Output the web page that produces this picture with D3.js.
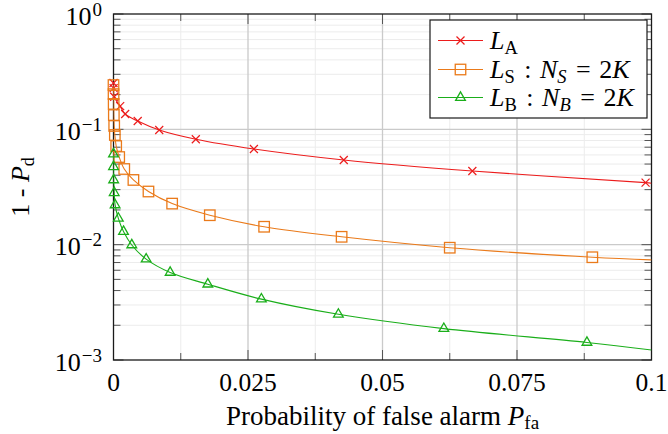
<!DOCTYPE html>
<html>
<head>
<meta charset="utf-8">
<script src="https://cdn.jsdelivr.net/npm/d3@7"></script>
<style>
  body { margin: 0; background: #fff; }
</style>
</head>
<body>
<div id="chart"></div>
<script>
// ---- data ----
// last point of each series is the line end at Pfa = 0.1 (no marker there)
const pfaA  = [0, 0.00002, 0.00013, 0.00124, 0.00217, 0.0045, 0.0085, 0.0153, 0.0261, 0.0428, 0.0667, 0.0989, 0.1];
const missA = [0.252, 0.228, 0.1916, 0.159, 0.1358, 0.118, 0.0986, 0.082, 0.0675, 0.0542, 0.0435, 0.0345, 0.0341];

const pfaS  = [0, 0.00001, 0.00003, 0.00006, 0.00013, 0.00025, 0.0005, 0.00106, 0.002, 0.0037, 0.0065, 0.0109, 0.0179, 0.028, 0.0424, 0.0625, 0.089, 0.1];
const missS = [0.242, 0.202, 0.166, 0.133, 0.107, 0.0893, 0.0716, 0.0575, 0.0453, 0.0364, 0.0289, 0.0227, 0.018, 0.0143, 0.0117, 0.00941, 0.00778, 0.00738];

const pfaB  = [0, 0.00001, 0.00003, 0.00013, 0.0003, 0.0009, 0.00186, 0.0034, 0.00607, 0.01053, 0.01753, 0.02749, 0.0418, 0.0614, 0.088, 0.1];
const missB = [0.0611, 0.0474, 0.0364, 0.0282, 0.0221, 0.0169, 0.013, 0.00994, 0.00749, 0.00574, 0.00454, 0.00337, 0.00249, 0.00187, 0.00142, 0.00122];

const xTicks = [0, 0.025, 0.05, 0.075, 0.1];
const xTickLabels = ["0", "0.025", "0.05", "0.075", "0.1"];
const xMinor = [0.0125, 0.0375, 0.0625, 0.0875];
const yTicks = [1e-3, 1e-2, 1e-1, 1];
const yTickExps = ["\u22123", "\u22122", "\u22121", "0"];

const series = [
  { key: "A", pfa: pfaA, miss: missA, color: "#ec1c1c", mark: "cross" },
  { key: "S", pfa: pfaS, miss: missS, color: "#ea7a1a", mark: "square" },
  { key: "B", pfa: pfaB, miss: missB, color: "#1aae1a", mark: "triangle" }
];

// ---- layout ----
const W = 668, H = 434;
const margin = { top: 14, right: 16.5, bottom: 74, left: 113.5 };
const FONT = "'Liberation Serif', 'DejaVu Serif', serif";

const svg = d3.select("#chart").append("svg")
  .attr("width", W).attr("height", H)
  .attr("font-family", FONT);

const x = d3.scaleLinear().domain([0, 0.1]).range([margin.left, W - margin.right]);
const y = d3.scaleLog().domain([1e-3, 1]).range([H - margin.bottom, margin.top]);

const x0 = x.range()[0], x1 = x.range()[1];
const y0 = y.range()[0], y1 = y.range()[1];

// ---- grid ----
const yMinor = y.ticks().filter(v => !yTicks.some(t => Math.abs(t - v) / t < 1e-6));
const grid = svg.append("g");

grid.selectAll(".gxm").data(xMinor).join("line")
  .attr("x1", d => x(d)).attr("x2", d => x(d)).attr("y1", y0).attr("y2", y1)
  .attr("stroke", "#ececec").attr("stroke-width", 1);
grid.selectAll(".gym").data(yMinor).join("line")
  .attr("x1", x0).attr("x2", x1).attr("y1", d => y(d)).attr("y2", d => y(d))
  .attr("stroke", "#ececec").attr("stroke-width", 1);
grid.selectAll(".gx").data(xTicks.slice(1, -1)).join("line")
  .attr("x1", d => x(d)).attr("x2", d => x(d)).attr("y1", y0).attr("y2", y1)
  .attr("stroke", "#cacaca").attr("stroke-width", 1.3);
grid.selectAll(".gy").data(yTicks.slice(1, -1)).join("line")
  .attr("x1", x0).attr("x2", x1).attr("y1", d => y(d)).attr("y2", d => y(d))
  .attr("stroke", "#cacaca").attr("stroke-width", 1.3);

// ---- ticks (inward, all four sides) ----
const ticks = svg.append("g").attr("stroke", "#555").attr("stroke-width", 1);
const major = 10, minor = 7;
[[xTicks, major], [xMinor, minor]].forEach(([vals, len]) => {
  vals.forEach(v => {
    ticks.append("line").attr("x1", x(v)).attr("x2", x(v)).attr("y1", y0).attr("y2", y0 - len);
    ticks.append("line").attr("x1", x(v)).attr("x2", x(v)).attr("y1", y1).attr("y2", y1 + len);
  });
});
[[yTicks, major], [yMinor, minor]].forEach(([vals, len]) => {
  vals.forEach(v => {
    ticks.append("line").attr("y1", y(v)).attr("y2", y(v)).attr("x1", x0).attr("x2", x0 + len);
    ticks.append("line").attr("y1", y(v)).attr("y2", y(v)).attr("x1", x1).attr("x2", x1 - len);
  });
});

// ---- frame ----
svg.append("rect")
  .attr("x", x0).attr("y", y1).attr("width", x1 - x0).attr("height", y0 - y1)
  .attr("fill", "none").attr("stroke", "#1a1a1a").attr("stroke-width", 1.3);

// ---- tick labels ----
svg.append("g").selectAll("text").data(xTicks).join("text")
  .attr("x", d => x(d)).attr("y", 391)
  .attr("text-anchor", "middle").attr("font-size", 25.5)
  .text((d, i) => xTickLabels[i]);

const yl = svg.append("g").selectAll("text").data(yTicks).join("text")
  .attr("x", 102).attr("y", d => y(d) + 10.5)
  .attr("text-anchor", "end").attr("font-size", 26);
yl.append("tspan").text("10");
yl.append("tspan").attr("dy", -9).attr("dx", 1).attr("font-size", 19).text((d, i) => yTickExps[i]);

// ---- axis titles ----
const xt = svg.append("text")
  .attr("x", (x0 + x1) / 2).attr("y", 425)
  .attr("text-anchor", "middle").attr("font-size", 27);
xt.append("tspan").text("Probability of false alarm ");
xt.append("tspan").attr("font-style", "italic").text("P");
xt.append("tspan").attr("dy", 4).attr("font-size", 19).text("fa");

const yt = svg.append("text")
  .attr("transform", `translate(29,${(y0 + y1) / 2}) rotate(-90)`)
  .attr("text-anchor", "middle").attr("font-size", 26);
yt.append("tspan").text("1 - ");
yt.append("tspan").attr("font-style", "italic").text("P");
yt.append("tspan").attr("dy", 5).attr("font-size", 18).text("d");

// ---- markers ----
function drawMark(g, type, cx, cy, color) {
  if (type === "cross") {
    const r = 4;
    g.append("path")
      .attr("d", `M${cx - r},${cy - r}L${cx + r},${cy + r}M${cx - r},${cy + r}L${cx + r},${cy - r}`)
      .attr("stroke", color).attr("stroke-width", 1.2).attr("fill", "none");
  } else if (type === "square") {
    const s = 10.5;
    g.append("rect").attr("x", cx - s / 2).attr("y", cy - s / 2).attr("width", s).attr("height", s)
      .attr("stroke", color).attr("stroke-width", 1.3).attr("fill", "none");
  } else {
    const r = 5.6;
    const pts = [[cx, cy - r], [cx + r * Math.sqrt(3) / 2, cy + r / 2], [cx - r * Math.sqrt(3) / 2, cy + r / 2]];
    g.append("path").attr("d", "M" + pts.join("L") + "Z")
      .attr("stroke", color).attr("stroke-width", 1.3).attr("fill", "none");
  }
}

// ---- curves ----
svg.append("clipPath").attr("id", "plotclip").append("rect")
  .attr("x", x0).attr("y", y1).attr("width", x1 - x0).attr("height", y0 - y1);

const line = d3.line()
  .x(d => x(d[0])).y(d => y(d[1]))
  .curve(d3.curveCatmullRom.alpha(0.5));

series.forEach(s => {
  const pts = s.pfa.map((p, i) => [p, s.miss[i]]);
  svg.append("path")
    .attr("clip-path", "url(#plotclip)")
    .attr("d", line(pts))
    .attr("fill", "none").attr("stroke", s.color).attr("stroke-width", 1.1);
  const g = svg.append("g");
  pts.slice(0, -1).forEach(p => drawMark(g, s.mark, x(p[0]), y(p[1]), s.color));
});

// ---- legend ----
const lg = svg.append("g");
lg.append("rect").attr("x", 430).attr("y", 20).attr("width", 217).attr("height", 98)
  .attr("fill", "#fff").attr("stroke", "#1a1a1a").attr("stroke-width", 1.2);

const legendRows = [40.5, 69.5, 97.5];
series.forEach((s, i) => {
  const ly = legendRows[i];
  lg.append("line").attr("x1", 438).attr("x2", 483).attr("y1", ly).attr("y2", ly)
    .attr("stroke", s.color).attr("stroke-width", 1.1);
  drawMark(lg, s.mark, 460.5, ly, s.color);
  const t = lg.append("text").attr("x", 490).attr("y", ly + 8.5).attr("font-size", 26);
  t.append("tspan").attr("font-style", "italic").text("L");
  t.append("tspan").attr("dy", 5).attr("font-size", 18.5).text(s.key);
  if (s.key !== "A") {
    t.append("tspan").attr("dy", -5).attr("dx", 3).text(" : ");
    t.append("tspan").attr("dx", 2).attr("font-style", "italic").text("N");
    t.append("tspan").attr("dy", 5).attr("font-size", 18.5).attr("font-style", "italic").text(s.key);
    t.append("tspan").attr("dy", -5).attr("dx", 3).text(" = ");
    t.append("tspan").attr("dx", 2).text("2");
    t.append("tspan").attr("font-style", "italic").text("K");
  }
});
</script>
</body>
</html>
